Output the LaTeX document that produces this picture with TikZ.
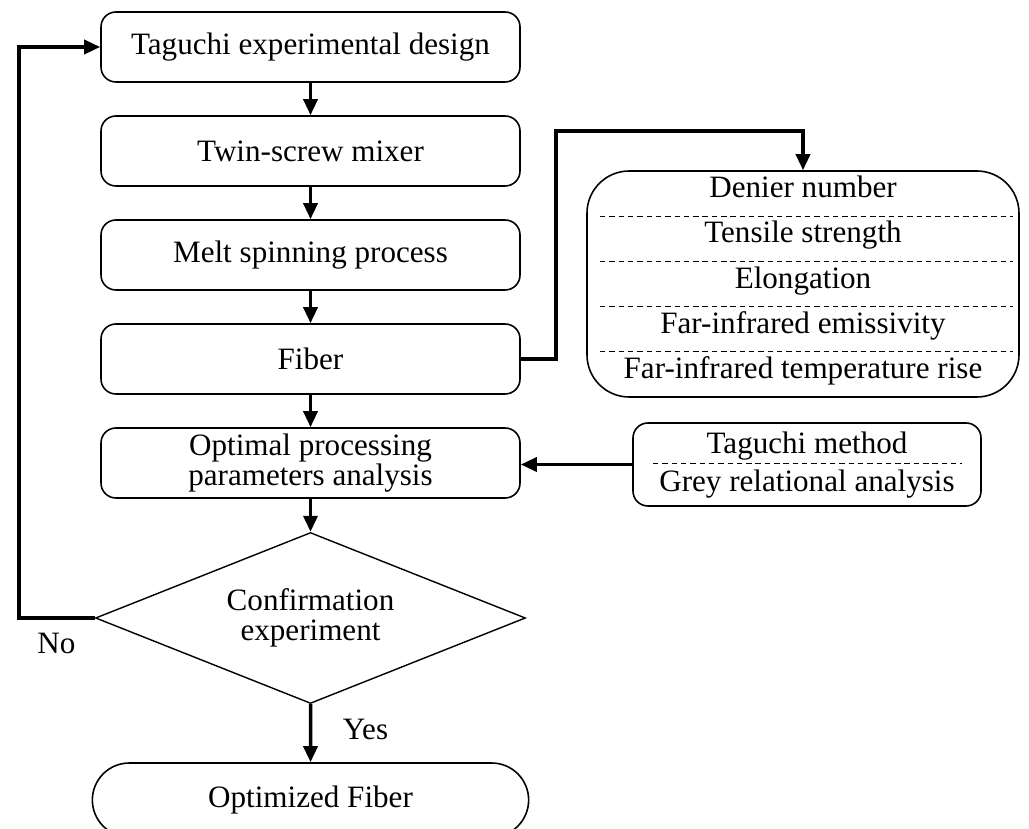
\documentclass[tikz,border=0pt]{standalone}
\usepackage{fontspec}
\setmainfont{Liberation Serif}
\usetikzlibrary{arrows.meta,positioning,shapes.geometric,shapes.misc,calc}

\begin{document}
\begin{tikzpicture}[font=\fontsize{17.7}{17}\selectfont, >={Triangle[length=3.2mm,width=2.8mm]},
  bx/.style={draw, line width=0.9pt, rounded corners=8.5pt, minimum width=8.38cm, minimum height=1.4cm, align=center},
  dec/.style={draw, line width=0.8pt, shape=diamond, aspect=2.5, minimum width=8.6cm, minimum height=3.42cm, inner sep=0pt, align=center},
  term/.style={draw, line width=0.9pt, rounded rectangle, minimum width=8.96cm, minimum height=1.48cm},
  lst/.style={draw, line width=0.9pt, rounded corners=24pt, minimum width=8.64cm, minimum height=4.52cm},
  mth/.style={draw, line width=0.9pt, rounded corners=8.5pt, minimum width=6.96cm, minimum height=1.66cm},
  row/.style={inner sep=0pt, text height=0.68em, text depth=0.22em},
  sep/.style={line width=0.7pt, dash pattern=on 3.1pt off 2.2pt},
  m/.style={->, line width=2pt}]
\useasboundingbox (0,0) rectangle (20.58,-16.58);
% main column
\foreach \y/\n/\t in {-0.94/tag/Taguchi experimental design, -3.02/twin/Twin-screw mixer,
  -5.10/melt/Melt spinning process, -7.18/fib/Fiber, -9.26/opt/{Optimal processing\\parameters analysis}} {
  \node[bx] (\n) at (6.21,\y) {\t};
}
\node[dec] (chk) at (6.21,-12.36) {Confirmation\\experiment};
\node[term] (done) at (6.21,-16.0) {Optimized Fiber};
\draw[m] (tag) -- (twin);
\draw[m] (twin) -- (melt);
\draw[m] (melt) -- (fib);
\draw[m] (fib) -- (opt);
\draw[m] (opt) -- (chk);
\draw[m] (chk) -- (done);
\node (yes) at (7.31,-14.58) {Yes};
% loop back
\coordinate (back) at (0.38,-0.94);
\draw[m] (chk.west) -| (back) -- (tag.west);
\node (no) at (1.13,-12.86) {No};
% measured properties
\node[lst] (props) at (16.06,-5.68) {};
\foreach \i/\t in {1/Denier number, 2/Tensile strength, 3/Elongation,
  4/Far-infrared emissivity, 5/Far-infrared temperature rise} {
  \node[row] (prop\i) at (16.06,{-3.42-0.904*(\i-0.5)}) {\t};
}
\foreach \i in {1,...,4} {
  \draw[sep] (12.0,{-3.42-0.904*\i}) -- (20.26,{-3.42-0.904*\i});
}
\coordinate (up) at (11.12,-2.62);
\draw[m] (fib.east) -| (up) -| (props.north);
% analysis methods
\node[mth] (meth) at (16.14,-9.29) {};
\node[row] (tm) at (16.14,-8.98) {Taguchi method};
\node[row] (gra) at (16.14,-9.74) {Grey relational analysis};
\draw[sep] (13.06,-9.27) -- (19.24,-9.27);
\draw[m] (meth.west) -- (meth.west -| opt.east);
\end{tikzpicture}
\end{document}
